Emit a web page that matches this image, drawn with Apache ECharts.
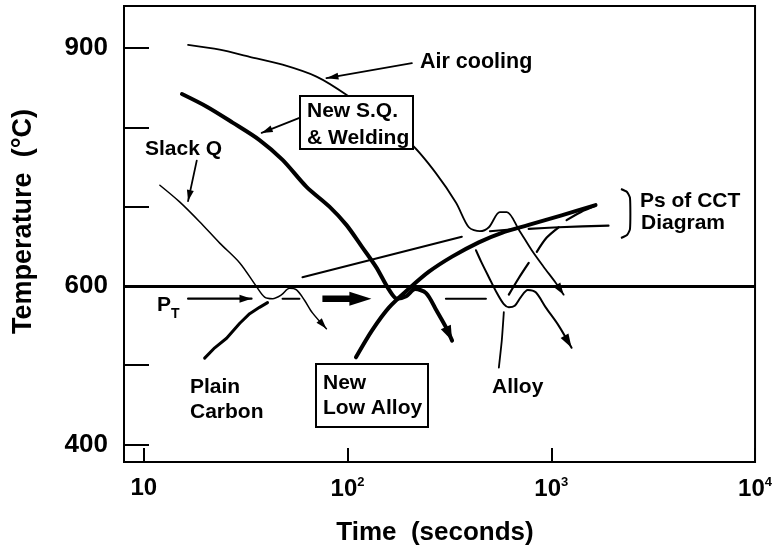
<!DOCTYPE html>
<html>
<head>
<meta charset="utf-8">
<script src="https://cdn.jsdelivr.net/npm/echarts@6/dist/echarts.min.js"></script>
<style>
  html, body { margin: 0; padding: 0; background: #fff; }
  #chart { width: 775px; height: 550px; }
</style>
</head>
<body>
<div id="chart"></div>
<script>
// Cooling paths crossing pearlite-start (Ps) curves of a CCT diagram.
// Points are [time in seconds, temperature in °C].

const timeTicks = [10, 100, 1000, 10000];
const tempTicks = [400, 500, 600, 700, 800, 900];
const tempLabels = [400, 600, 900];
const pearliteTemp = 600;      // horizontal reference line
const transformTemp = 584;     // P_T isothermal level

// cooling curves
const airCooling = [[16.5, 904], [23.6, 898], [33.1, 889], [48, 879], [70.4, 864], [98.7, 841], [143, 809], [207, 778], [272, 742], [341, 705], [394, 674], [446, 669], [494, 674], [559, 693], [605, 693], [693, 671], [802, 645], [918, 624], [1051, 604], [1150, 589]];
const newSqWelding = [[15.4, 842], [20.4, 826], [27.3, 806], [37, 784], [48, 759], [62.9, 725], [81.5, 700], [98.7, 677], [118, 649], [138, 624], [160, 595], [175, 584], [194, 587], [215, 596], [243, 591], [272, 570], [304, 548], [326, 531]];
const slackQ = [[12, 727], [15, 706], [18.8, 681], [23.6, 654], [29.6, 629], [35.8, 599], [39.2, 586], [42.9, 584], [47.5, 589], [51.9, 597], [56.2, 595], [61.5, 582], [67.3, 566], [78.8, 546]];
const alloyCooling = [[427, 645], [452, 631], [494, 611], [541, 591], [585, 577], [619, 573], [662, 575], [709, 586], [767, 595], [839, 592], [939, 573], [1087, 550], [1258, 522]];

// Ps curves (broken where other curves cross them)
const plainCarbonPsLow = [[19.9, 509], [22.3, 522], [25.5, 534], [29.6, 553], [33.1, 565], [37, 573], [40.5, 579]];
const plainCarbonPsA = [[60.1, 611], [364, 662]];
const plainCarbonPsB = [[500, 669], [693, 672]];
const plainCarbonPsC = [[775, 672], [1087, 674], [1909, 676]];
const newLowAlloyPs = [[110, 510], [132, 544], [160, 573], [201, 597], [251, 618], [326, 637], [441, 655], [572, 667], [775, 677], [1124, 689], [1649, 702]];
const alloyPsA = [[619, 589], [693, 610], [775, 629]];
const alloyPsB = [[849, 643], [950, 661], [1087, 674]];
const alloyPsC = [[1189, 683], [1393, 693], [1649, 701]];

// P_T path
const pTArrow = [[16.5, transformTemp], [33.8, transformTemp]];
const pTDashA = [[48, transformTemp], [58.1, transformTemp]];
const pTBoldShaft = [[75.3, transformTemp], [114, transformTemp]];
const pTBoldTip = [131, transformTemp];
const pTDashB = [[304, transformTemp], [478, transformTemp]];

// label pointers
const airCoolingPointer = [[207, 881], [78.8, 862]];
const newSqPointer = [[58.1, 812], [37.9, 793]];
const slackQPointer = [[18.2, 758], [16.5, 707]];
const alloyPointer = [[585, 567], [572, 532], [553, 497]];

const FONT = '"Liberation Sans", Arial, Helvetica, sans-serif';
const INK = '#000';
// arrow head whose tip sits at the centre of its box
const ARROW = 'path://M5,0M5,20L10,40L0,40Z';

function arrowHead(from, to, len, width) {
  const size = [width, len * 2];
  return {
    silent: true,
    animation: false,
    symbol: ['none', ARROW],
    symbolSize: [size, size],
    lineStyle: { width: 0, color: INK },
    itemStyle: { color: INK },
    label: { show: false },
    emphasis: { disabled: true },
    data: [[{ coord: from }, { coord: to, symbolSize: size }]]
  };
}

function curve(name, data, width, extra) {
  return Object.assign({
    name: name,
    type: 'line',
    data: data,
    symbol: 'none',
    showSymbol: false,
    smooth: 0.3,
    silent: true,
    color: INK,
    lineStyle: { color: INK, width: width, cap: 'round', join: 'round' },
    z: 3
  }, extra || {});
}

function withArrow(name, data, width, len, headW, extra) {
  const n = data.length;
  return curve(name, data, width, Object.assign({
    markLine: arrowHead(data[n - 2], data[n - 1], len, headW)
  }, extra || {}));
}

function text(str, x, y, size, extra) {
  return Object.assign({
    type: 'text',
    x: x,
    y: y,
    z: 100,
    silent: true,
    style: {
      text: str,
      fill: INK,
      font: 'bold ' + size + 'px ' + FONT,
      align: 'left',
      verticalAlign: 'middle'
    }
  }, extra || {});
}

function box(x, y, w, h) {
  return {
    type: 'rect', z: 90, silent: true,
    shape: { x: x, y: y, width: w, height: h },
    style: { fill: '#fff', stroke: INK, lineWidth: 2 }
  };
}

const chart = echarts.init(document.getElementById('chart'), null, { renderer: 'canvas' });

chart.setOption({
  animation: false,
  backgroundColor: '#fff',
  grid: {
    left: 124, right: 18, top: 6, bottom: 88,
    show: true, borderColor: INK, borderWidth: 2, backgroundColor: 'transparent'
  },
  xAxis: {
    type: 'log',
    logBase: 10,
    min: 8,
    max: timeTicks[timeTicks.length - 1],
    axisLine: { show: false },
    splitLine: { show: false },
    axisTick: { show: true, inside: true, length: 14, lineStyle: { color: INK, width: 2 } },
    axisLabel: {
      margin: 14,
      color: INK,
      fontFamily: FONT,
      fontWeight: 'bold',
      fontSize: 24,
      showMinLabel: false,
      formatter: function (v) {
        const e = Math.log10(v);
        const p = Math.round(e);
        if (Math.abs(e - p) > 1e-6 || timeTicks.indexOf(Math.pow(10, p)) < 0) return '';
        return p === 1 ? '10' : '10{s|' + p + '}';
      },
      rich: {
        s: { fontSize: 13, fontWeight: 'bold', fontFamily: FONT, color: INK, padding: [0, 0, 14, 0] }
      }
    }
  },
  yAxis: {
    type: 'value',
    min: 378,
    max: 953,
    axisLine: { show: false },
    splitLine: { show: false },
    axisTick: {
      show: true, inside: true, length: 25,
      customValues: tempTicks,
      lineStyle: { color: INK, width: 2 }
    },
    axisLabel: {
      customValues: tempLabels,
      margin: 16,
      color: INK,
      fontFamily: FONT,
      fontWeight: 'bold',
      fontSize: 26
    }
  },
  series: [
    curve('Plain carbon Ps', plainCarbonPsLow, 3, {
      smooth: false,
      markLine: {
        silent: true, animation: false, symbol: ['none', 'none'],
        label: { show: false }, emphasis: { disabled: true },
        lineStyle: { color: INK, width: 3, type: 'solid' },
        data: [{ yAxis: pearliteTemp }]
      }
    }),
    curve('Plain carbon Ps 2', plainCarbonPsA, 2, { smooth: false }),
    curve('Plain carbon Ps 3', plainCarbonPsB, 2, { smooth: false }),
    curve('Plain carbon Ps 4', plainCarbonPsC, 2.2, { smooth: 0.2 }),
    curve('New low alloy Ps', newLowAlloyPs, 4),
    curve('Alloy Ps 1', alloyPsA, 2.2),
    curve('Alloy Ps 2', alloyPsB, 2.2),
    curve('Alloy Ps 3', alloyPsC, 2.2),

    withArrow('Air cooling', airCooling, 1.8, 12, 8),
    withArrow('New S.Q. & Welding', newSqWelding, 4, 15, 11),
    withArrow('Slack Q', slackQ, 1.5, 11, 7),
    withArrow('Alloy', alloyCooling, 2, 14, 9),

    withArrow('P_T', pTArrow, 2.2, 12, 8, { smooth: false }),
    curve('P_T dash 1', pTDashA, 2, { smooth: false }),
    curve('P_T bold', pTBoldShaft, 6.5, {
      smooth: false,
      lineStyle: { color: INK, width: 6.5, cap: 'butt' },
      markLine: arrowHead(pTBoldShaft[pTBoldShaft.length - 1], pTBoldTip, 22, 14)
    }),
    curve('P_T dash 2', pTDashB, 2, { smooth: false }),

    withArrow('Air cooling pointer', airCoolingPointer, 1.8, 12, 7, { smooth: false }),
    withArrow('New S.Q. pointer', newSqPointer, 1.8, 11, 7, { smooth: false }),
    withArrow('Slack Q pointer', slackQPointer, 1.8, 11, 7, { smooth: false }),
    curve('Alloy pointer', alloyPointer, 1.8, { smooth: 0.2 })
  ],
  graphic: [
    text('Temperature  (°C)', 23.5, 221.5, 27, { rotation: Math.PI / 2, style: { text: 'Temperature  (°C)', fill: INK, font: 'bold 27px ' + FONT, align: 'center', verticalAlign: 'middle' } }),
    text('Time  (seconds)', 435, 533, 26, { style: { text: 'Time  (seconds)', fill: INK, font: 'bold 26px ' + FONT, align: 'center', verticalAlign: 'middle' } }),

    text('Air cooling', 420, 62, 21.5),
    box(300, 96, 113, 53),
    text('New S.Q.', 307, 111, 21),
    text('& Welding', 307, 138, 21),
    text('Slack Q', 145, 149, 21),
    text('P', 157, 305, 21),
    text('T', 171, 314, 14),
    text('Plain', 190, 387, 21),
    text('Carbon', 190, 412, 21),
    box(316, 364, 112, 63),
    text('New', 323, 383, 21),
    text('Low Alloy', 323, 408, 21),
    text('Alloy', 492, 387, 21),
    text('Ps of CCT', 640, 201, 21),
    text('Diagram', 641, 223, 21),
    {
      type: 'polyline', z: 100, silent: true,
      shape: { points: [[621, 189], [627, 192], [630, 198], [630, 229], [627, 235], [621, 238]], smooth: 0.2 },
      style: { fill: 'none', stroke: INK, lineWidth: 2 }
    }
  ]
});
</script>
</body>
</html>
